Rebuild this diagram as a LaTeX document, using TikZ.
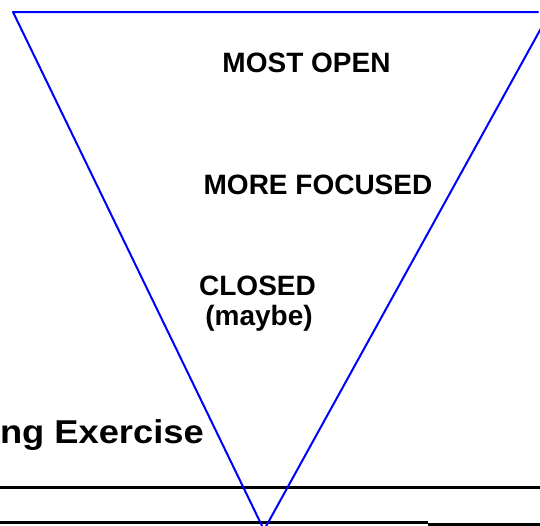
\documentclass[tikz,border=0pt]{standalone}
\usepackage{fontspec}
\setmainfont{Liberation Sans}
\begin{document}
\begin{tikzpicture}[x=1pt,y=-1pt,
  lbl/.style={font=\fontsize{28}{30}\selectfont\bfseries, inner sep=0pt},
  funnel/.style={draw=blue, line width=2pt, line cap=round, line join=round},
  rule/.style={draw=black, line width=3.5pt}]
\useasboundingbox (0,0) rectangle (540,525);
\clip (0,0) rectangle (540,525);
\coordinate (tl) at (13,12);
\coordinate (tr) at (538,12);
\coordinate (tx) at (550,12);
\coordinate (v) at (264,530);
\coordinate (l1a) at (0,487.5);
\coordinate (l1b) at (540,487.5);
\coordinate (l2a) at (0,522.5);
\coordinate (l2b) at (428,522.5);
\coordinate (l3a) at (428,524.5);
\coordinate (l3b) at (540,524.5);
\draw[rule] (l1a) -- (l1b);
\draw[rule] (l2a) -- (l2b);
\draw[rule] (l3a) -- (l3b);
\draw[funnel] (tr) -- (tl) -- (v) -- (tx);
\node[lbl, anchor=base] (open) at (306.5,72.7) {MOST OPEN};
\node[lbl, anchor=base] (focus) at (318,194.3) {MORE FOCUSED};
\node[lbl, anchor=base] (closed) at (257.5,295) {CLOSED};
\node[lbl, anchor=base] (maybe) at (259,325) {(maybe)};
\node[font=\fontsize{33}{35}\selectfont\bfseries, inner sep=0pt, anchor=base east] (ex) at (204,443.5) {\scalebox{1.1}[1]{ng Exercise}};
\end{tikzpicture}
\end{document}
